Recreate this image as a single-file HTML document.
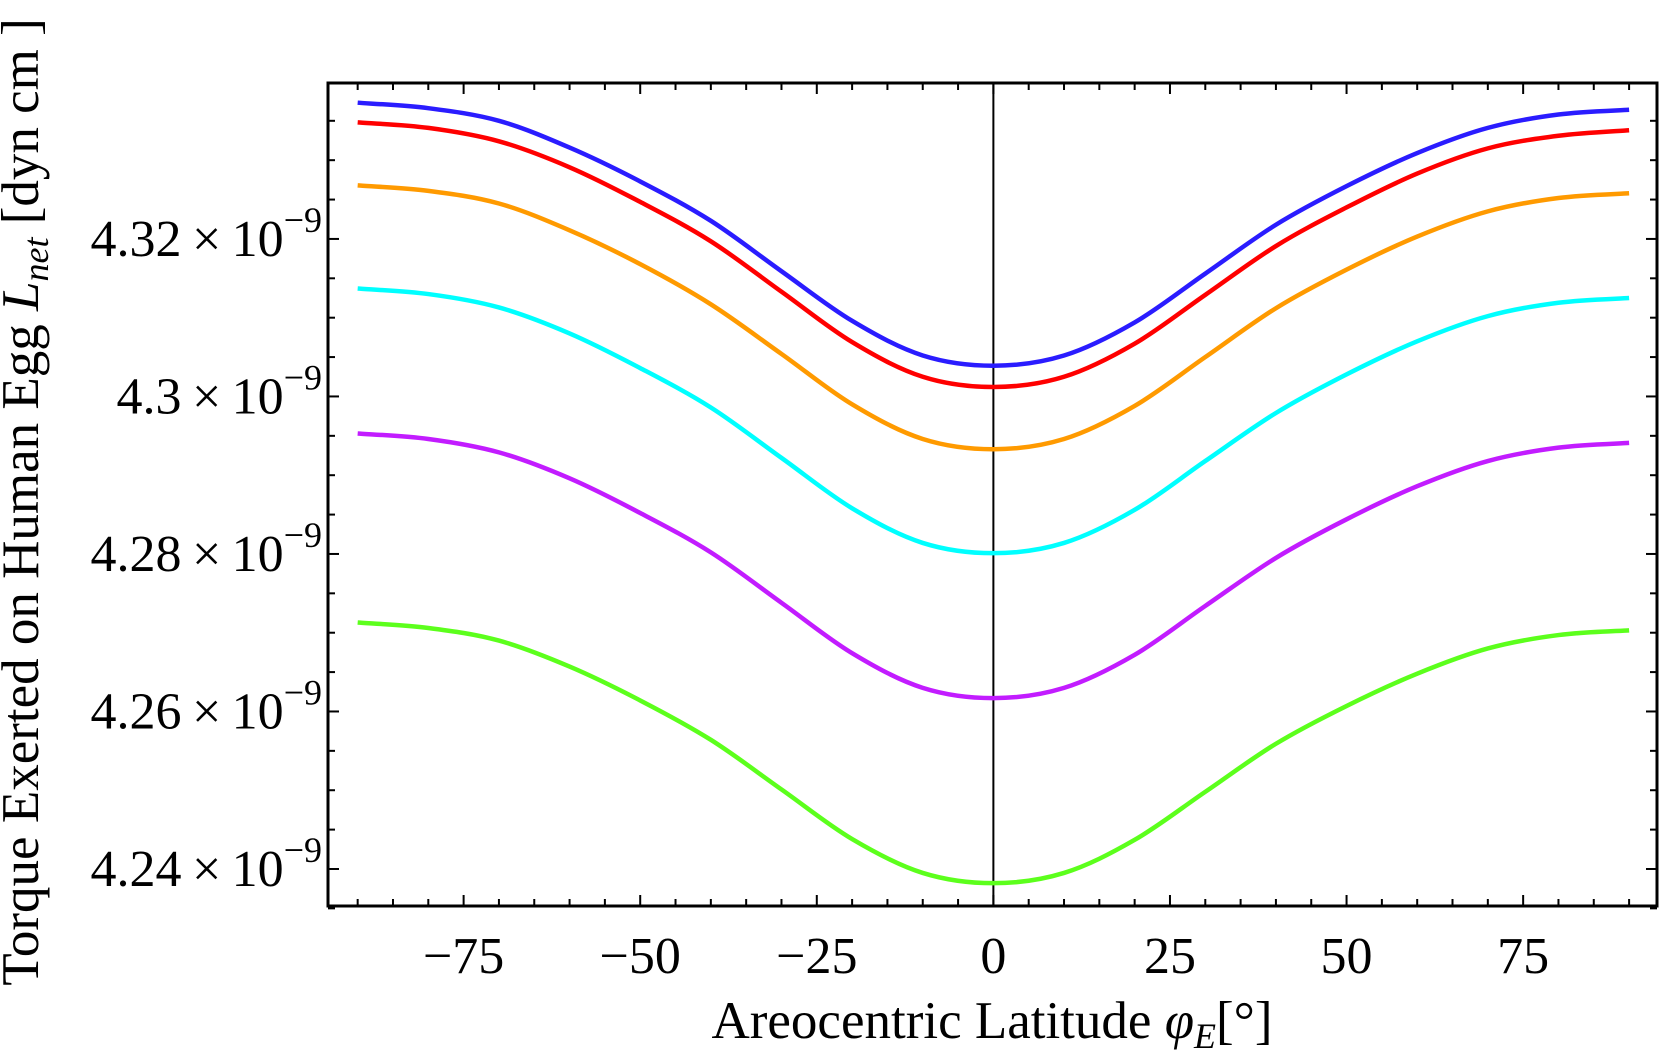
<!DOCTYPE html>
<html><head><meta charset="utf-8"><style>
body{margin:0;background:#fff}
svg{display:block}
text{font-family:"Liberation Serif",serif;fill:#000}
</style></head><body>
<svg id="chart" width="1659" height="1050" xmlns="http://www.w3.org/2000/svg">
<g id="grid"></g>
<g id="series"></g>
<text x="992" y="1038" font-size="53" text-anchor="middle">Areocentric  Latitude <tspan font-style="italic">φ<tspan font-size="36" dy="10">E</tspan></tspan><tspan dy="-10">[°]</tspan></text>
<text transform="translate(38,502) rotate(-90)" font-size="53" text-anchor="middle">Torque Exerted on Human Egg <tspan font-style="italic">L<tspan font-size="36" dy="10">net</tspan></tspan><tspan dy="-10"> [dyn cm ]</tspan></text>
</svg>
<script>
const xs=[-90,-80,-70,-60,-50,-40,-30,-20,-10,0,10,20,30,40,50,60,70,80,90];
const blue=[4.3373,4.3366,4.3350,4.3316,4.3273,4.3223,4.3159,4.3096,4.3052,4.3039,4.3052,4.3094,4.3156,4.3218,4.3267,4.3309,4.3341,4.3358,4.3364];
const red=[4.3348,4.3341,4.3324,4.3291,4.3247,4.3197,4.3133,4.3069,4.3025,4.3012,4.3025,4.3067,4.3129,4.3191,4.3240,4.3283,4.3315,4.3331,4.3338];
const orange=[4.3268,4.3261,4.3245,4.3211,4.3168,4.3117,4.3054,4.2990,4.2946,4.2933,4.2946,4.2988,4.3050,4.3112,4.3161,4.3203,4.3235,4.3252,4.3258];
const cyan=[4.3137,4.3130,4.3113,4.3080,4.3036,4.2986,4.2922,4.2858,4.2814,4.2801,4.2814,4.2856,4.2918,4.2979,4.3028,4.3070,4.3102,4.3119,4.3125];
const purple=[4.2953,4.2946,4.2929,4.2896,4.2852,4.2802,4.2738,4.2674,4.2630,4.2617,4.2630,4.2672,4.2734,4.2795,4.2844,4.2886,4.2918,4.2935,4.2941];
const green=[4.2713,4.2706,4.2690,4.2657,4.2614,4.2564,4.2501,4.2438,4.2395,4.2382,4.2395,4.2437,4.2498,4.2559,4.2607,4.2648,4.2680,4.2697,4.2703];
const xTicks=[-75,-50,-25,0,25,50,75];
const yTicks=[4.24,4.26,4.28,4.30,4.32];
const yLabels=["4.24","4.26","4.28","4.3","4.32"];
const L=328,R=1657,T=83,B=906;
const X0=-94.2,X1=93.95,Y0=4.2353,Y1=4.3398;
const sx=v=>L+(v-X0)/(X1-X0)*(R-L);
const sy=v=>B-(v-Y0)/(Y1-Y0)*(B-T);
const NS="http://www.w3.org/2000/svg";
const g=document.getElementById('grid'),sg=document.getElementById('series');
function mk(tag,at,parent){const e=document.createElementNS(NS,tag);for(const k in at)e.setAttribute(k,at[k]);parent.appendChild(e);return e;}
const fr=mk('rect',{x:L,y:T,width:R-L,height:B-T,fill:'none',stroke:'#000','stroke-width':3},g);


const zl=mk('line',{x1:sx(0),x2:sx(0),y1:T,y2:B,stroke:'#000','stroke-width':2},g);


for(let v=-90;v<=90;v+=5){const maj=v%25===0;const len=maj?11:7;const x=sx(v);
 mk('line',{x1:x,x2:x,y1:B,y2:B-len,stroke:'#000','stroke-width':2},g);
 mk('line',{x1:x,x2:x,y1:T,y2:T+len,stroke:'#000','stroke-width':2},g);}
for(let v=4.235;v<=4.3396;v+=0.005){const maj=Math.abs(Math.round(v*100)-v*100)<1e-6&&Math.round(v*100)%2===0;const len=maj?11:7;const y=sy(v);
 mk('line',{x1:L,x2:L+len,y1:y,y2:y,stroke:'#000','stroke-width':2},g);
 mk('line',{x1:R,x2:R-len,y1:y,y2:y,stroke:'#000','stroke-width':2},g);}
xTicks.forEach(v=>{const t=mk('text',{x:sx(v),y:973,'font-size':52,'text-anchor':'middle'},g);
 t.textContent=v<0?'\u2212'+(-v):String(v);
 
 });
yTicks.forEach((v,i)=>{const t=mk('text',{x:322,y:sy(v)+17,'font-size':52,'text-anchor':'end'},g);
 t.innerHTML=yLabels[i]+'\u2009\u00d7\u200910<tspan font-size="36" dy="-24">\u22129</tspan>';
 
 });
function path(arr){const p=xs.map((x,i)=>[sx(x),sy(arr[i])]);let d='M'+p[0][0]+','+p[0][1];
 for(let i=0;i<p.length-1;i++){const p0=p[Math.max(0,i-1)],p1=p[i],p2=p[i+1],p3=p[Math.min(p.length-1,i+2)];
 d+=' C'+(p1[0]+(p2[0]-p0[0])/6)+','+(p1[1]+(p2[1]-p0[1])/6)+' '+(p2[0]-(p3[0]-p1[0])/6)+','+(p2[1]-(p3[1]-p1[1])/6)+' '+p2[0]+','+p2[1];}
 return d;}
[[blue,'#2a1cff','series-blue'],[red,'#ff0000','series-red'],[orange,'#ff9a00','series-orange'],[cyan,'#00ffff','series-cyan'],[purple,'#c21cff','series-purple'],[green,'#5cff1c','series-green']].forEach(s=>{
 const e=mk('path',{d:path(s[0]),fill:'none',stroke:s[1],'stroke-width':4.5},sg);
 
 });
</script>
</body></html>
